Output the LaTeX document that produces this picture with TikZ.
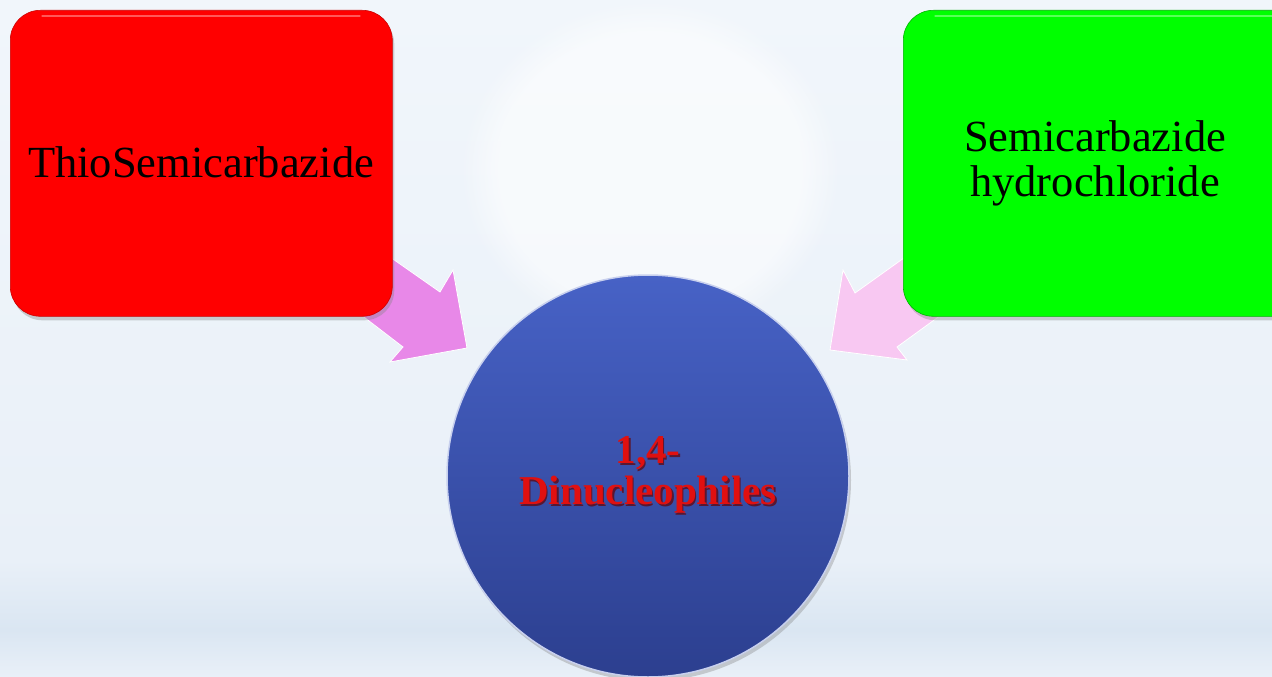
\documentclass[tikz,border=0pt]{standalone}
\usepackage{fontspec}
\setmainfont{Liberation Serif}
\usetikzlibrary{shadows,fadings}
\definecolor{bgtop}{HTML}{F1F6FB}
\definecolor{bgmid}{HTML}{E9F0F8}
\definecolor{bgbot}{HTML}{DAE6F2}
\definecolor{boxred}{HTML}{FF0000}
\definecolor{boxgreen}{HTML}{00FF00}
\definecolor{arrowviolet}{HTML}{E888E8}
\definecolor{arrowpink}{HTML}{F8C8F2}
\definecolor{circtop}{HTML}{4762C6}
\definecolor{circbot}{HTML}{2C3F8F}
\definecolor{txtred}{HTML}{E01010}
\tikzset{
  boxstyle/.style={rounded corners=30pt, drop shadow={shadow xshift=2pt, shadow yshift=-4pt, opacity=0.35}},
  boxtext/.style={font=\fontsize{44.5}{45}\selectfont, align=center, text=black},
  blockarrow/.style={draw=white, line width=0.8pt, line join=miter},
  circtext/.style={font=\fontsize{41}{41}\selectfont\bfseries, align=center},
}
\begin{document}
\begin{tikzpicture}[x=1pt,y=-1pt]
\useasboundingbox (0,0) rectangle (1272,677);
\clip (0,0) rectangle (1272,677);
% background
\shade[top color=bgtop, bottom color=bgmid] (0,0) rectangle (1272,560);
\shade[top color=bgmid, bottom color=bgbot] (0,560) rectangle (1272,630);
\shade[top color=bgbot, bottom color=bgmid] (0,630) rectangle (1272,677);
\fill[white, path fading=circle with fuzzy edge 20 percent, opacity=0.55] (650,170) ellipse (190 and 170);
% arrows
\fill[arrowviolet, blockarrow] (330,215) -- (440,292) -- (453,270) -- (467,348) -- (390,362) -- (403,347) -- (300,268) -- cycle;
\fill[arrowpink, blockarrow] (950,225) -- (855,293) -- (843,270) -- (830,350) -- (907,360) -- (897,347) -- (985,283) -- cycle;
% boxes
\node[boxstyle, fill=boxred, draw=red!80!black, line width=0.6pt, minimum width=382pt, minimum height=306pt, anchor=north west] (thio) at (10,10) {};
\draw[white, opacity=0.35, line width=1.2pt, line cap=round] (42,16) -- (360,16);
\node[boxstyle, fill=boxgreen, draw=green!70!black, line width=0.6pt, minimum width=400pt, minimum height=306pt, anchor=north west] (semi) at (903,10) {};
\draw[white, opacity=0.35, line width=1.2pt, line cap=round] (935,16) -- (1272,16);
\node[boxtext] (thiot) at (201,162) {ThioSemicarbazide};
\node[boxtext] (semit) at (1095,163) {Semicarbazide\\hydrochloride};
% circle
\node[circle, minimum size=402pt, top color=circtop, bottom color=circbot, draw=white!70!circtop, line width=1.5pt, drop shadow={shadow xshift=2pt, shadow yshift=-4pt, opacity=0.35}] (dinu) at (648,476) {};
\node[circtext, text=black!60!red, opacity=0.7] at (649.5,476.5) {1,4-\\Dinucleophiles};
\node[circtext, text=txtred] (dinut) at (648,475) {1,4-\\Dinucleophiles};
\end{tikzpicture}
\end{document}
